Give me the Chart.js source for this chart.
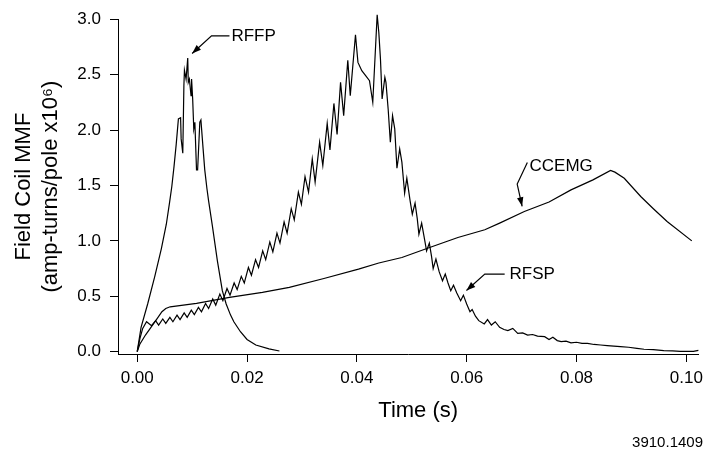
<!DOCTYPE html>
<html><head><meta charset="utf-8">
<script src="https://cdn.jsdelivr.net/npm/chart.js@4"></script>
<style>html,body{margin:0;padding:0;background:#fff}#wrap{width:709px;height:460px;position:relative}</style>
</head><body><div id="wrap"><canvas id="c" width="709" height="460"></canvas></div>
<script>
// ---------- axis ticks ----------
const xTicks = [0, 0.02, 0.04, 0.06, 0.08, 0.10];
const xTickLabels = ['0.00', '0.02', '0.04', '0.06', '0.08', '0.10'];
const yTicks = [0, 0.5, 1.0, 1.5, 2.0, 2.5, 3.0];
const yTickLabels = ['0.0', '0.5', '1.0', '1.5', '2.0', '2.5', '3.0'];
const xTitle = 'Time (s)';
const yTitle = ['Field Coil MMF', '(amp-turns/pole x10\u2076)'];

// ---------- RFFP ----------
const rffpTime = [0, 0.0007, 0.0019, 0.0032, 0.0044, 0.0053, 0.0059, 0.0063, 0.0067, 0.0071, 0.0075, 0.0079, 0.0080, 0.0083, 0.0085, 0.0086, 0.0089, 0.0092, 0.0093, 0.0095, 0.0098, 0.0099, 0.0101, 0.0103, 0.0105, 0.0108, 0.0110, 0.0114, 0.0116, 0.0120, 0.0123, 0.0127, 0.0130, 0.0137, 0.0146, 0.0155, 0.0162, 0.0170, 0.0176, 0.0188, 0.0200, 0.0216, 0.0240, 0.0259];
const rffpMmf  = [0, 0.22, 0.43, 0.68, 0.93, 1.15, 1.35, 1.49, 1.67, 1.87, 2.10, 2.11, 1.92, 1.79, 2.40, 2.54, 2.46, 2.65, 2.43, 2.46, 2.31, 2.46, 2.28, 2.01, 2.07, 1.64, 1.64, 2.07, 2.09, 1.83, 1.64, 1.47, 1.36, 1.13, 0.82, 0.55, 0.43, 0.33, 0.27, 0.18, 0.11, 0.06, 0.025, 0.006];

// ---------- RFSP ----------
const rfspTime = [0, 0.0005, 0.001, 0.0017, 0.0026, 0.00335, 0.0039, 0.00465, 0.0052, 0.00595, 0.0065, 0.00725, 0.0078, 0.00855, 0.0091, 0.00985, 0.0104, 0.01115, 0.0117, 0.01245, 0.013, 0.01375, 0.0143, 0.01505, 0.0156, 0.01635, 0.0169, 0.01765, 0.0182, 0.01895, 0.0195, 0.02025, 0.0208, 0.02155, 0.0221, 0.02285, 0.0234, 0.02415, 0.0247, 0.02545, 0.026, 0.02675, 0.0273, 0.02805, 0.0286, 0.02935, 0.0299, 0.03056, 0.0312, 0.03188, 0.0324, 0.03322, 0.0338, 0.0346, 0.0351, 0.03582, 0.0364, 0.03703, 0.0376, 0.03835, 0.0388, 0.03975, 0.0402, 0.0409, 0.0416, 0.0423, 0.0429, 0.0437, 0.0440, 0.0443, 0.0446, 0.0451, 0.0453, 0.0457, 0.0461, 0.0465, 0.0469, 0.0473, 0.0478, 0.0482, 0.0487, 0.0491, 0.0497, 0.0501, 0.0506, 0.0510, 0.0513, 0.0518, 0.0522, 0.0527, 0.0532, 0.0536, 0.0539, 0.0544, 0.0550, 0.0556, 0.0561, 0.0566, 0.0571, 0.0576, 0.0582, 0.0589, 0.0594, 0.0600, 0.0606, 0.0610, 0.0616, 0.0622, 0.0632, 0.0638, 0.0645, 0.0652, 0.0660, 0.0668, 0.0675, 0.0684, 0.0693, 0.0702, 0.0711, 0.0720, 0.0729, 0.0742, 0.0750, 0.0757, 0.0765, 0.0772, 0.0781, 0.0790, 0.0800, 0.0810, 0.0820, 0.0832, 0.0844, 0.0856, 0.0868, 0.0880, 0.0895, 0.0910, 0.0923, 0.0940, 0.0959, 0.0975, 0.0989, 0.1005, 0.1013, 0.1022];
const rfspMmf  = [0, 0.12, 0.21, 0.27, 0.235, 0.28, 0.24, 0.295, 0.255, 0.31, 0.27, 0.33, 0.29, 0.35, 0.31, 0.375, 0.335, 0.40, 0.36, 0.435, 0.39, 0.475, 0.42, 0.52, 0.46, 0.57, 0.51, 0.62, 0.56, 0.68, 0.62, 0.76, 0.69, 0.83, 0.76, 0.91, 0.83, 0.99, 0.90, 1.07, 0.98, 1.17, 1.07, 1.29, 1.19, 1.44, 1.33, 1.58, 1.44, 1.74, 1.53, 1.89, 1.68, 2.06, 1.82, 2.24, 1.96, 2.43, 2.13, 2.63, 2.31, 2.86, 2.61, 2.535, 2.49, 2.445, 2.25, 3.04, 2.88, 2.64, 2.28, 2.475, 2.43, 2.19, 1.89, 2.13, 2.01, 1.655, 1.83, 1.71, 1.43, 1.565, 1.36, 1.24, 1.34, 1.20, 1.06, 1.16, 1.05, 0.91, 0.98, 0.86, 0.75, 0.835, 0.72, 0.64, 0.70, 0.62, 0.55, 0.60, 0.53, 0.46, 0.51, 0.43, 0.36, 0.38, 0.32, 0.28, 0.25, 0.29, 0.24, 0.27, 0.22, 0.20, 0.19, 0.21, 0.165, 0.17, 0.15, 0.155, 0.14, 0.135, 0.11, 0.13, 0.10, 0.09, 0.095, 0.08, 0.085, 0.075, 0.075, 0.065, 0.06, 0.055, 0.05, 0.045, 0.04, 0.03, 0.022, 0.018, 0.01, 0.008, 0.003, 0.002, 0.003, 0.012];

// ---------- CCEMG ----------
const ccemgTime = [0, 0.0005, 0.0015, 0.0025, 0.0035, 0.0045, 0.0052, 0.0060, 0.0108, 0.0168, 0.0228, 0.0277, 0.0340, 0.0403, 0.0440, 0.0482, 0.0530, 0.0584, 0.0633, 0.0660, 0.0705, 0.0750, 0.0790, 0.0830, 0.0862, 0.0870, 0.0887, 0.0917, 0.0940, 0.0965, 0.1010];
const ccemgMmf  = [0, 0.07, 0.15, 0.22, 0.29, 0.36, 0.39, 0.405, 0.435, 0.49, 0.535, 0.58, 0.66, 0.745, 0.80, 0.85, 0.935, 1.03, 1.10, 1.16, 1.265, 1.35, 1.46, 1.55, 1.635, 1.62, 1.565, 1.40, 1.29, 1.175, 1.0];

// ---------- callout labels (data coordinates) ----------
const calloutNames = ['RFFP', 'CCEMG', 'RFSP'];
const calloutTextAt = [[0.01716, 2.85], [0.07145, 1.67], [0.0678, 0.70]];
const calloutPaths = [
  [[0.0168, 2.85], [0.01353, 2.85], [0.0100, 2.69]],
  [[0.07105, 1.708], [0.0692, 1.512], [0.0701, 1.312]],
  [[0.06692, 0.70], [0.0633, 0.70], [0.05996, 0.552]]
];
const footnote = '3910.1409';

const toPts = (t, v) => t.map((ti, i) => ({x: ti, y: v[i]}));
const FONT = '"Liberation Sans", Arial, Helvetica, sans-serif';
Chart.defaults.font.family = FONT;
Chart.defaults.color = '#000';

const calloutPlugin = {
  id: 'callouts',
  afterDatasetsDraw(chart) {
    const {ctx, chartArea, scales: {x, y}} = chart;
    ctx.save();
    ctx.fillStyle = '#000';
    ctx.strokeStyle = '#000';
    ctx.lineWidth = 1.2;
    ctx.font = '17px ' + FONT;
    ctx.textAlign = 'left';
    ctx.textBaseline = 'middle';
    calloutNames.forEach((name, k) => {
      ctx.fillText(name, x.getPixelForValue(calloutTextAt[k][0]), y.getPixelForValue(calloutTextAt[k][1]));
      const pts = calloutPaths[k].map(p => [x.getPixelForValue(p[0]), y.getPixelForValue(p[1])]);
      ctx.beginPath();
      pts.forEach((p, i) => i ? ctx.lineTo(p[0], p[1]) : ctx.moveTo(p[0], p[1]));
      ctx.stroke();
      const a = pts[pts.length - 2], b = pts[pts.length - 1];
      const ang = Math.atan2(b[1] - a[1], b[0] - a[0]);
      const L = 9, W = 3.2;
      const c = Math.cos(ang), s = Math.sin(ang);
      ctx.beginPath();
      ctx.moveTo(b[0], b[1]);
      ctx.lineTo(b[0] - L * c + W * s, b[1] - L * s - W * c);
      ctx.lineTo(b[0] - L * c - W * s, b[1] - L * s + W * c);
      ctx.closePath();
      ctx.fill();
    });
    // x-axis title (slightly right of the plot centre, as in the original)
    ctx.font = '22px ' + FONT;
    ctx.textAlign = 'center';
    ctx.fillText(xTitle, (chartArea.left + chartArea.right) / 2 + 10, 411);
    // figure number
    ctx.font = '15px ' + FONT;
    ctx.textAlign = 'right';
    ctx.fillText(footnote, 703, 443);
    ctx.restore();
  }
};

const lineStyle = {borderColor: '#000', borderWidth: 1.2, pointRadius: 0, tension: 0, fill: false, clip: false};

new Chart(document.getElementById('c'), {
  type: 'line',
  data: {
    datasets: [
      Object.assign({label: 'RFFP', data: toPts(rffpTime, rffpMmf)}, lineStyle),
      Object.assign({label: 'RFSP', data: toPts(rfspTime, rfspMmf)}, lineStyle),
      Object.assign({label: 'CCEMG', data: toPts(ccemgTime, ccemgMmf)}, lineStyle)
    ]
  },
  options: {
    responsive: false,
    animation: false,
    devicePixelRatio: 1,
    layout: {padding: {top: 16, right: 7, bottom: 0, left: 0}},
    plugins: {legend: {display: false}, tooltip: {enabled: false}},
    scales: {
      x: {
        type: 'linear',
        min: -0.0035,
        max: 0.1022,
        afterBuildTicks: s => { s.ticks = xTicks.map(v => ({value: v})); },
        afterFit: s => { s.height = 106; },
        ticks: {
          callback: v => xTickLabels[xTicks.indexOf(v)],
          font: {size: 17}, color: '#000', padding: 6, maxRotation: 0, autoSkip: false
        },
        grid: {drawOnChartArea: false, tickLength: 8, color: '#000', lineWidth: 1},
        border: {color: '#000', width: 1},
        title: {display: false}
      },
      y: {
        type: 'linear',
        min: -0.021,
        max: 3.0,
        afterBuildTicks: s => { s.ticks = yTicks.map(v => ({value: v})); },
        afterFit: s => { s.width = 118; },
        ticks: {
          callback: v => yTickLabels[yTicks.indexOf(v)],
          font: {size: 17}, color: '#000', padding: 9, autoSkip: false
        },
        grid: {drawOnChartArea: false, tickLength: 8, color: '#000', lineWidth: 1},
        border: {color: '#000', width: 1},
        title: {display: true, text: yTitle, font: {size: 22}, color: '#000', padding: {top: 11, bottom: 0}}
      }
    }
  },
  plugins: [calloutPlugin]
});
</script>
</body></html>
